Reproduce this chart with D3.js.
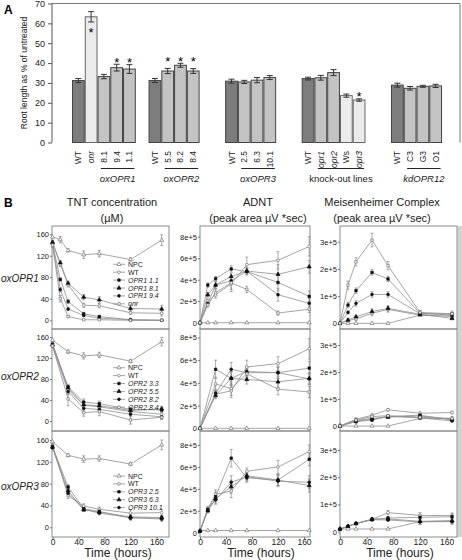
<!DOCTYPE html>
<html><head><meta charset="utf-8">
<script src="https://cdn.jsdelivr.net/npm/d3@7"></script>
<style>body{margin:0;background:#fff}svg{display:block;font-family:"Liberation Sans",Arial,sans-serif}</style>
</head><body><svg id="c" width="462" height="560"></svg>
<script>
// ---------- Panel A data ----------
const rootLabels = ["WT","onr","8.1","9.4","1.1","WT","5.5","8.2","8.4","WT","2.5","6.3","10.1","WT","opr1","opr2","Ws","opr3","WT","C3","G3","O1"];
const rootItalic = [0,1,0,0,0,0,0,0,0,0,0,0,0,0,1,1,0,1,0,0,0,0];
const rootValues = [31.2,63.3,33.2,37.7,37.0, 31.2,36.0,38.9,36.0, 30.9,30.5,31.4,32.7, 32.2,32.6,35.2,23.6,21.4, 28.9,27.3,28.3,28.5];
const rootErrors = [1.0,2.6,1.1,1.7,2.2, 1.0,1.3,1.0,1.2, 1.0,0.8,1.3,1.0, 0.7,1.2,1.5,0.8,0.6, 1.0,0.9,0.5,0.8];
const rootGroup  = [0,0,0,0,0, 1,1,1,1, 2,2,2,2, 3,3,3,3,3, 4,4,4,4];
const rootType   = ["wt","light","mid","mid","mid","wt","mid","mid","mid","wt","mid","mid","mid","wt","mid","mid","light","light","wt","mid","mid","mid"];
const rootStar   = [0,1,0,1,1,0,1,1,1,0,0,0,0,0,0,0,0,1,0,0,0,0];
const groupNames = ["oxOPR1","oxOPR2","oxOPR3","knock-out lines","kdOPR12"];
const groupItalic = [1,1,1,0,1];
const groupLineFirst = [2,6,10,14,19];
const rootTicks = [0,10,20,30,40,50,60,70];

// ---------- Panel B data ----------
const timesFull = [0,12,24,48,72,120,168];
const timesNo12 = [0,24,48,72,120,168];
const timeTicks = [0,40,80,120,160];
const tntTicks = [0,40,80,120,160];
const tntTickLabels = ["0","40","80","120","160"];
const adntTicks = [0,2e5,4e5,6e5,8e5];
const adntTickLabels = ["0","2e+5","4e+5","6e+5","8e+5"];
const mcTicks = [0,1e5,2e5,3e5];
const mcTickLabels = ["0","1e+5","2e+5","3e+5"];

const legendOPR1 = ["NPC","WT","OPR1 1.1","OPR1 8.1","OPR1 9.4","onr"];
const legendOPR2 = ["NPC","WT","OPR2 3.3","OPR2 5.5","OPR2 8.2","OPR2 8.4"];
const legendOPR3 = ["NPC","WT","OPR3 2.5","OPR3 6.3","OPR3 10.1"];
const markerKinds = ["openTri","openCircle","filledSquare","filledTri","filledCircle","openSquare"];

// TNT concentration (µM)
const tntOPR1 = [[155,150,130,122,124,113,149],[145,104,66,28,27,14,13],[143,76,35,12,7,1,0],[145,107,69,43,38,22,21],[142,57,21,9,4,1,0],[140,40,7,1,1,0,0]];
const tntOPR1Err = [[0,6,3,7,6,3,10],[4,4,4,4,4,3,5],[4,3,4,3,2,1,1],[4,4,4,5,6,6,7],[4,4,3,2,2,1,1],[4,6,2,1,1,1,1]];
const tntOPR2 = [[154,132,124,126,114,151],[148,60,30,27,18,13],[146,65,36,33,22,21],[145,63,31,29,20,23],[144,56,24,22,13,8],[143,42,16,18,2,7]];
const tntOPR2Err = [[0,3,6,5,3,8],[4,6,6,7,6,5],[4,5,6,5,4,5],[4,5,5,5,4,5],[4,6,5,6,5,4],[4,13,7,8,8,4]];
const tntOPR3 = [[157,132,125,126,116,151],[150,58,39,33,26,27],[148,74,34,29,17,17],[147,67,32,28,19,18],[146,62,33,26,18,15]];
const tntOPR3Err = [[0,3,6,5,3,9],[4,5,4,4,6,6],[4,4,3,3,4,4],[4,4,3,3,4,4],[4,4,3,3,4,4]];

// ADNT (peak area)
const adntOPR1 = [[0,0,0,0,0,0,0],[0,2.0e5,2.6e5,3.6e5,5.4e5,5.8e5,7.1e5],[0,3.5e5,4.1e5,5.0e5,4.75e5,3.75e5,2.45e5],[0,2.6e5,3.5e5,4.3e5,4.8e5,4.5e5,5.2e5],[0,1.8e5,3.5e5,3.9e5,4.8e5,2.6e5,1.8e5],[0,1.65e5,2.8e5,3.7e5,3.1e5,0.9e5,1.25e5]];
const adntOPR1Err = [[0,0,0,0,0,0,0],[0,0.2e5,0.3e5,0.7e5,0.7e5,0.8e5,0.9e5],[0,0.2e5,0.2e5,0.3e5,0.3e5,0.8e5,0.5e5],[0,0.2e5,0.3e5,0.3e5,0.3e5,0.9e5,0.6e5],[0,0.2e5,0.3e5,0.3e5,0.3e5,0.6e5,0.5e5],[0,0.2e5,0.3e5,0.6e5,0.3e5,0.2e5,0.3e5]];
const adntOPR2 = [[0,0,0,0,0,0],[0,3.0e5,3.3e5,5.4e5,5.7e5,7.0e5],[0,5.2e5,4.4e5,5.0e5,4.9e5,5.3e5],[0,2.9e5,4.4e5,4.3e5,4.1e5,4.4e5],[0,3.1e5,5.2e5,4.9e5,4.9e5,4.35e5],[0,3.9e5,3.5e5,4.8e5,3.45e5,3.2e5]];
const adntOPR2Err = [[0,0,0,0,0,0],[0,0.3e5,0.6e5,0.6e5,0.6e5,0.9e5],[0,0.8e5,0.6e5,0.4e5,0.5e5,0.6e5],[0,0.3e5,0.6e5,0.4e5,0.5e5,0.5e5],[0,0.3e5,0.6e5,0.4e5,0.5e5,0.5e5],[0,0.6e5,0.6e5,0.4e5,0.5e5,0.5e5]];
const adntOPR3 = [[0.2e5,0.2e5,0.2e5,0.2e5,0.2e5,0.2e5,0.2e5],[0.15e5,2.2e5,3.5e5,3.8e5,5.6e5,6.0e5,7.4e5],[0.15e5,2.1e5,3.3e5,6.8e5,5.0e5,4.8e5,6.7e5],[0.15e5,2.0e5,3.1e5,4.2e5,5.2e5,4.8e5,4.3e5],[0.15e5,2.1e5,3.0e5,4.6e5,5.1e5,4.7e5,4.6e5]];
const adntOPR3Err = [[0,0,0,0,0,0,0],[0,0.2e5,0.4e5,0.6e5,0.3e5,0.6e5,0.6e5],[0,0.2e5,0.4e5,0.8e5,0.4e5,0.5e5,0.6e5],[0,0.2e5,0.4e5,0.6e5,0.4e5,0.5e5,0.6e5],[0,0.2e5,0.4e5,0.6e5,0.4e5,0.5e5,0.6e5]];

// Meisenheimer complex (peak area)
const mcOPR1 = [[0,0,0,0,0,0.3e5,0.3e5],[0,0.1e5,0.16e5,0.37e5,0.51e5,0.3e5,0.25e5],[0,0.67e5,1.2e5,1.87e5,1.63e5,0.37e5,0.3e5],[0,0.12e5,0.24e5,0.43e5,0.55e5,0.33e5,0.18e5],[0,0.4e5,0.73e5,1.06e5,1.06e5,0.35e5,0.35e5],[0,1.4e5,2.26e5,3.06e5,2.12e5,0.4e5,0.35e5]];
const mcOPR1Err = [[0,0,0,0,0,0,0],[0,0.05e5,0.05e5,0.1e5,0.1e5,0.05e5,0.05e5],[0,0.1e5,0.1e5,0.1e5,0.1e5,0.1e5,0.1e5],[0,0.05e5,0.05e5,0.1e5,0.1e5,0.05e5,0.05e5],[0,0.05e5,0.1e5,0.1e5,0.1e5,0.05e5,0.05e5],[0,0.15e5,0.15e5,0.25e5,0.15e5,0.05e5,0.1e5]];
const mcOPR2 = [[0,0,0,0,0.28e5,0.28e5],[0,0.25e5,0.4e5,0.6e5,0.47e5,0.5e5],[0,0.16e5,0.22e5,0.35e5,0.4e5,0.22e5],[0,0.2e5,0.28e5,0.33e5,0.37e5,0.25e5],[0,0.18e5,0.25e5,0.36e5,0.3e5,0.19e5],[0,0.22e5,0.35e5,0.38e5,0.32e5,0.28e5]];
const mcOPR2Err = [[0,0,0,0,0,0],[0,0.05e5,0.05e5,0.05e5,0.05e5,0.05e5],[0,0.05e5,0.05e5,0.05e5,0.05e5,0.05e5],[0,0.05e5,0.05e5,0.05e5,0.05e5,0.05e5],[0,0.05e5,0.05e5,0.05e5,0.05e5,0.05e5],[0,0.05e5,0.05e5,0.05e5,0.05e5,0.05e5]];
const mcOPR3 = [[0.1e5,0.1e5,0.1e5,0.1e5,0.1e5,0.37e5,0.4e5],[0.1e5,0.2e5,0.3e5,0.45e5,0.7e5,0.6e5,0.59e5],[0.1e5,0.2e5,0.3e5,0.46e5,0.5e5,0.53e5,0.55e5],[0.1e5,0.2e5,0.3e5,0.45e5,0.47e5,0.38e5,0.4e5],[0.1e5,0.2e5,0.3e5,0.44e5,0.43e5,0.36e5,0.37e5]];
const mcOPR3Err = [[0,0,0,0,0,0,0],[0,0.03e5,0.03e5,0.05e5,0.08e5,0.1e5,0.1e5],[0,0.03e5,0.03e5,0.05e5,0.05e5,0.1e5,0.1e5],[0,0.03e5,0.03e5,0.05e5,0.05e5,0.1e5,0.1e5],[0,0.03e5,0.03e5,0.05e5,0.05e5,0.1e5,0.1e5]];

// ---------- drawing ----------
const svg = d3.select("#c");
const FONT = '"Liberation Sans",Arial,sans-serif';

// ===== Panel A =====
svg.append("text").attr("x",4).attr("y",14).attr("font-size",12).attr("font-weight","bold").text("A");
const yA = d3.scaleLinear().domain([0,70]).range([142.5,3.5]);
const gapsAfter = [1,2,2,2];
const keys = [];
rootLabels.forEach((l,i)=>{
  keys.push("b"+i);
  if (i<rootLabels.length-1 && rootGroup[i+1]!==rootGroup[i])
    for (let g=0; g<gapsAfter[rootGroup[i]]; g++) keys.push("g"+i+"_"+g);
});
const slotW = 12.76;
const xA = d3.scaleBand().domain(keys).range([72, 72+keys.length*slotW]).padding(0);
const fillOf = {wt:"#7d7d7d", mid:"#c3c3c3", light:"#ebebeb"};
const gA = svg.append("g");
gA.append("path").attr("d",`M52,${yA(70)}H460V${yA(0)}`).attr("fill","none").attr("stroke","#777").attr("stroke-width",1);
gA.selectAll("rect.bar").data(rootValues).join("rect").attr("class","bar")
  .attr("x",(d,i)=>xA("b"+i)+0.5).attr("width",xA.bandwidth()-1)
  .attr("y",d=>yA(d)).attr("height",d=>yA(0)-yA(d))
  .attr("fill",(d,i)=>fillOf[rootType[i]]).attr("stroke",(d,i)=>rootType[i]==="light"?"#666":"#444").attr("stroke-width",1);
rootValues.forEach((v,i)=>{
  const cx = xA("b"+i)+xA.bandwidth()/2, e = rootErrors[i];
  const g = gA.append("g").attr("stroke","#333").attr("stroke-width",1);
  g.append("line").attr("x1",cx).attr("x2",cx).attr("y1",yA(v+e)).attr("y2",yA(v-e));
  g.append("line").attr("x1",cx-3).attr("x2",cx+3).attr("y1",yA(v+e)).attr("y2",yA(v+e));
  g.append("line").attr("x1",cx-3).attr("x2",cx+3).attr("y1",yA(v-e)).attr("y2",yA(v-e));
});
const starTop = {};
rootValues.forEach((v,i)=>{ if(rootStar[i] && i!==1){ const t=yA(v+rootErrors[i]); const gi=rootGroup[i]; starTop[gi]=Math.min(starTop[gi]??999,t);} });
rootValues.forEach((v,i)=>{
  if(!rootStar[i]) return;
  const cx = xA("b"+i)+xA.bandwidth()/2;
  const cy = (i===1) ? yA(v-rootErrors[i])+8 : starTop[rootGroup[i]]-5;
  gA.append("text").attr("x",cx).attr("y",cy+7.4).attr("text-anchor","middle").attr("font-size",13).text("*");
});
const axA = d3.axisLeft(yA).tickValues(rootTicks).tickSize(4).tickPadding(3);
const gAx = gA.append("g").attr("transform","translate(52,0)").call(axA);
gAx.selectAll("text").attr("font-size",9).attr("font-family",FONT).attr("fill","#222");
gAx.selectAll("line,path").attr("stroke","#555");
gAx.select("path").attr("d",`M0,${yA(70)}V${yA(0)}`);
gA.append("text").attr("transform",`translate(27,73) rotate(-90)`).attr("text-anchor","middle").attr("font-size",8.5).attr("fill","#222").text("Root length as % of untreated");
rootLabels.forEach((l,i)=>{
  const cx = xA("b"+i)+xA.bandwidth()/2;
  gA.append("text").attr("transform",`translate(${cx+3},151) rotate(-90)`).attr("text-anchor","end")
    .attr("font-size",8.5).attr("font-style",rootItalic[i]?"italic":"normal").attr("fill","#222").text(l);
});
groupNames.forEach((n,gi)=>{
  const idx = rootGroup.map((g,i)=>g===gi?i:-1).filter(i=>i>=0);
  const last = idx[idx.length-1];
  const x1 = xA("b"+groupLineFirst[gi])+xA.bandwidth()/2-3;
  const x2 = xA("b"+last)+xA.bandwidth()/2+5;
  gA.append("line").attr("x1",x1).attr("x2",x2).attr("y1",168.5).attr("y2",168.5).attr("stroke","#222").attr("stroke-width",1);
  gA.append("text").attr("x",(x1+x2)/2).attr("y",182).attr("text-anchor","middle").attr("font-size",9.5)
    .attr("font-style",groupItalic[gi]?"italic":"normal").attr("fill","#222").text(n);
});

// ===== Panel B =====
svg.append("text").attr("x",4).attr("y",207).attr("font-size",12).attr("font-weight","bold").text("B");
const colTitles = [["TNT concentration","(\u00b5M)"],["ADNT","(peak area \u00b5V *sec)"],["Meisenheimer Complex","(peak area \u00b5V *sec)"]];
const rowNames = ["oxOPR1","oxOPR2","oxOPR3"];
const cols = [{x0:52,x1:169,xr:[52.5,156.5],title:112,tl:118},{x0:200,x1:310,xr:[200,304],title:258,tl:261},{x0:340,x1:457,xr:[340,446.7],title:382,tl:400}];
const rows = [{y0:226,y1:329},{y0:329,y1:431},{y0:431,y1:537}];
const yMaps = [
  [[320.3,234.3],[421,337],[527.3,440]],
  [[322.7,236.7],[428.3,337.5],[532.7,445]],
  [[323.3,241.7],[426,345],[531.7,450]]
];
const colTicks = [[tntTicks,tntTickLabels],[adntTicks,adntTickLabels],[mcTicks,mcTickLabels]];
const panelData = [
  [[tntOPR1,tntOPR1Err,timesFull],[tntOPR2,tntOPR2Err,timesNo12],[tntOPR3,tntOPR3Err,timesNo12]],
  [[adntOPR1,adntOPR1Err,timesFull],[adntOPR2,adntOPR2Err,timesNo12],[adntOPR3,adntOPR3Err,timesFull]],
  [[mcOPR1,mcOPR1Err,timesFull],[mcOPR2,mcOPR2Err,timesNo12],[mcOPR3,mcOPR3Err,timesFull]]
];
const legends = [legendOPR1,legendOPR2,legendOPR3];
const legendY = [264.3,367.7,476];

svg.append("rect").attr("x",457.5).attr("y",226).attr("width",4.5).attr("height",311).attr("fill","#d2d2d2");

function marker(g,kind,x,y){
  const open = kind.startsWith("open");
  let type = d3.symbolCircle, size = 6;
  if (kind.endsWith("Tri")) { type = d3.symbolTriangle; size = 7; }
  if (kind.endsWith("Square")) { type = d3.symbolSquare; size = 6; }
  g.append("path").attr("d",d3.symbol().type(type).size(size)())
    .attr("transform",`translate(${x},${y})`)
    .attr("fill",open?"#fff":"#111").attr("stroke",open?"#777":"#111").attr("stroke-width",0.7);
}

colTitles.forEach((t,ci)=>{
  svg.append("text").attr("x",cols[ci].title).attr("y",206).attr("text-anchor","middle").attr("font-size",11).attr("fill","#222").text(t[0]);
  svg.append("text").attr("x",cols[ci].title).attr("y",221.5).attr("text-anchor","middle").attr("font-size",11).attr("fill","#222").text(t[1]);
  svg.append("text").attr("x",cols[ci].tl).attr("y",557).attr("text-anchor","middle").attr("font-size",12).attr("fill","#222").text("Time (hours)");
});
rowNames.forEach((n,ri)=>{
  svg.append("text").attr("x",1).attr("y",[281.5,380,490][ri]).attr("font-size",10).attr("font-style","italic").attr("fill","#222").text(n);
});

cols.forEach((c,ci)=>{
  rows.forEach((r,ri)=>{
    const g = svg.append("g");
    const x = d3.scaleLinear().domain([0,160]).range(c.xr);
    const [ticks,labels] = colTicks[ci];
    const top = ticks[ticks.length-1];
    const y = d3.scaleLinear().domain([0,top]).range(yMaps[ci][ri]);
    g.append("rect").attr("x",c.x0).attr("y",r.y0).attr("width",c.x1-c.x0).attr("height",r.y1-r.y0)
      .attr("fill","none").attr("stroke","#8a8a8a").attr("stroke-width",1);
    const ay = d3.axisLeft(y).tickValues(ticks).tickFormat((d,i)=>labels[i]).tickSize(2).tickPadding(1);
    const gy = g.append("g").attr("transform",`translate(${c.x0},0)`).call(ay);
    gy.select("path").remove();
    gy.selectAll("line").attr("stroke","#777");
    gy.selectAll("text").attr("font-size",7.5).attr("font-family",FONT).attr("fill","#222");
    if (ri===2){
      const ax = d3.axisBottom(x).tickValues(timeTicks).tickSize(2).tickPadding(0);
      const gx = g.append("g").attr("transform",`translate(0,${r.y1})`).call(ax);
      gx.select("path").remove();
      gx.selectAll("line").attr("stroke","#777");
      gx.selectAll("text").attr("y",1.5).attr("font-size",8.5).attr("font-family",FONT).attr("fill","#222");
    }
    const [series,errs,times] = panelData[ci][ri];
    const line = d3.line().x((d,i)=>x(times[i])).y(d=>y(d));
    series.forEach((vals,si)=>{
      g.append("path").attr("d",line(vals)).attr("fill","none").attr("stroke","#8f8f8f").attr("stroke-width",0.8);
    });
    series.forEach((vals,si)=>{
      vals.forEach((v,k)=>{
        const e = errs[si][k]; if(!e) return;
        const px = x(times[k]);
        const eg = g.append("g").attr("stroke","#888").attr("stroke-width",0.7);
        eg.append("line").attr("x1",px).attr("x2",px).attr("y1",y(v+e)).attr("y2",y(v-e));
        eg.append("line").attr("x1",px-1.5).attr("x2",px+1.5).attr("y1",y(v+e)).attr("y2",y(v+e));
        eg.append("line").attr("x1",px-1.5).attr("x2",px+1.5).attr("y1",y(v-e)).attr("y2",y(v-e));
      });
    });
    series.forEach((vals,si)=>{
      vals.forEach((v,k)=>marker(g,markerKinds[si],x(times[k]),y(v)));
    });
    if (ci===0){
      legends[ri].forEach((name,li)=>{
        const ly = legendY[ri]+li*7.9;
        g.append("line").attr("x1",113).attr("x2",125).attr("y1",ly).attr("y2",ly).attr("stroke","#8f8f8f").attr("stroke-width",0.8);
        marker(g,markerKinds[li],119,ly);
        g.append("text").attr("x",128).attr("y",ly+2.5).attr("font-size",7).attr("fill","#222")
          .attr("font-style",(name==="NPC"||name==="WT")?"normal":"italic").text(name);
      });
    }
  });
});
</script></body></html>
